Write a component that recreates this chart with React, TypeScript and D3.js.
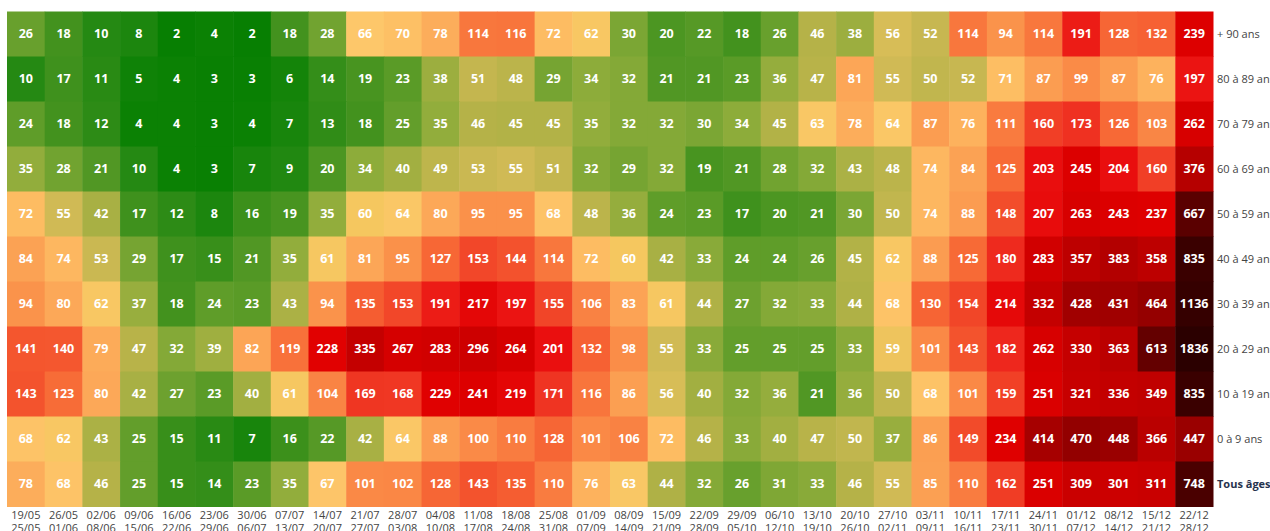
import React from "react";
import * as d3 from "d3";

// week labels (start / end)
const weekStart = ["19/05","26/05","02/06","09/06","16/06","23/06","30/06","07/07","14/07","21/07","28/07","04/08","11/08","18/08","25/08","01/09","08/09","15/09","22/09","29/09","06/10","13/10","20/10","27/10","03/11","10/11","17/11","24/11","01/12","08/12","15/12","22/12"];
const weekEnd = ["25/05","01/06","08/06","15/06","22/06","29/06","06/07","13/07","20/07","27/07","03/08","10/08","17/08","24/08","31/08","07/09","14/09","21/09","28/09","05/10","12/10","19/10","26/10","02/11","09/11","16/11","23/11","30/11","07/12","14/12","21/12","28/12"];

const ageLabels = ["+ 90 ans","80 à 89 ans","70 à 79 ans","60 à 69 ans","50 à 59 ans","40 à 49 ans","30 à 39 ans","20 à 29 ans","10 à 19 ans","0 à 9 ans","Tous âges"];

const age90 = [26,18,10,8,2,4,2,18,28,66,70,78,114,116,72,62,30,20,22,18,26,46,38,56,52,114,94,114,191,128,132,239];
const age80 = [10,17,11,5,4,3,3,6,14,19,23,38,51,48,29,34,32,21,21,23,36,47,81,55,50,52,71,87,99,87,76,197];
const age70 = [24,18,12,4,4,3,4,7,13,18,25,35,46,45,45,35,32,32,30,34,45,63,78,64,87,76,111,160,173,126,103,262];
const age60 = [35,28,21,10,4,3,7,9,20,34,40,49,53,55,51,32,29,32,19,21,28,32,43,48,74,84,125,203,245,204,160,376];
const age50 = [72,55,42,17,12,8,16,19,35,60,64,80,95,95,68,48,36,24,23,17,20,21,30,50,74,88,148,207,263,243,237,667];
const age40 = [84,74,53,29,17,15,21,35,61,81,95,127,153,144,114,72,60,42,33,24,24,26,45,62,88,125,180,283,357,383,358,835];
const age30 = [94,80,62,37,18,24,23,43,94,135,153,191,217,197,155,106,83,61,44,27,32,33,44,68,130,154,214,332,428,431,464,1136];
const age20 = [141,140,79,47,32,39,82,119,228,335,267,283,296,264,201,132,98,55,33,25,25,25,33,59,101,143,182,262,330,363,613,1836];
const age10 = [143,123,80,42,27,23,40,61,104,169,168,229,241,219,171,116,86,56,40,32,36,21,36,50,68,101,159,251,321,336,349,835];
const age0 = [68,62,43,25,15,11,7,16,22,42,64,88,100,110,128,101,106,72,46,33,40,47,50,37,86,149,234,414,470,448,366,447];
const allAges = [78,68,46,25,15,14,23,35,67,101,102,128,143,135,110,76,63,44,32,26,31,33,46,55,85,110,162,251,309,301,311,748];

const series = [age90, age80, age70, age60, age50, age40, age30, age20, age10, age0, allAges];

const W = 1270;
const H = 531;
const left = 7;
const right = 1213;
const top = 11.5;
const bottom = 506.5;

const color = d3
  .scaleLinear<string>()
  .domain([0, 4, 10, 18, 26, 35, 46, 55, 60, 66, 72, 80, 95, 110, 125, 150, 180, 200, 230, 300, 350, 430, 613, 835, 1900])
  .range([
    "#027c00", "#0b8104", "#258913", "#43921e", "#68a02d", "#92ad3c", "#b5b248", "#d0ba55",
    "#f5c75f", "#fdc76a", "#fdbc62", "#fca858", "#fa914a", "#f97c40", "#f76a36", "#f24a2a",
    "#ee2a1e", "#ea1010", "#e00000", "#cc0000", "#c00000", "#a00000", "#640000", "#3a0000", "#2a0000",
  ])
  .clamp(true);

export default function App() {
  const x = d3.scaleBand<number>().domain(d3.range(weekStart.length)).range([left, right]);
  const y = d3.scaleBand<number>().domain(d3.range(ageLabels.length)).range([top, bottom]);

  const cells = series.flatMap((row, r) => row.map((v, c) => ({ r, c, v })));

  return (
    <svg
      width={W}
      height={H}
      style={{ position: "absolute", left: 0, top: 0, fontFamily: "'Open Sans', sans-serif" }}
    >
      <rect width={W} height={H} fill="#fff" />
      <g>
        {cells.map((d) => (
          <rect
            key={`${d.r}-${d.c}`}
            x={x(d.c)}
            y={y(d.r)}
            width={x.bandwidth() + 0.5}
            height={y.bandwidth() + 0.5}
            fill={color(d.v)}
          />
        ))}
      </g>
      <g>
        {cells.map((d) => (
          <text
            key={`t${d.r}-${d.c}`}
            x={(x(d.c) ?? 0) + x.bandwidth() / 2}
            y={(y(d.r) ?? 0) + y.bandwidth() / 2}
            dy="0.35em"
            textAnchor="middle"
            fontSize={12.5}
            fontWeight="bold"
            fill="#fff"
          >
            {d.v}
          </text>
        ))}
      </g>
      <g>
        {ageLabels.map((a, i) => (
          <text
            key={a}
            x={right + 4}
            y={(y(i) ?? 0) + y.bandwidth() / 2}
            dy="0.35em"
            fontSize={11}
            fontWeight={i === ageLabels.length - 1 ? "bold" : "normal"}
            fill={i === ageLabels.length - 1 ? "#26324d" : "#444"}
          >
            {a}
          </text>
        ))}
      </g>
      <g>
        {weekStart.map((s, i) => (
          <text
            key={s}
            x={(x(i) ?? 0) + x.bandwidth() / 2}
            y={bottom + 12.5}
            textAnchor="middle"
            fontSize={11}
            fill="#444"
          >
            <tspan x={(x(i) ?? 0) + x.bandwidth() / 2}>{s}</tspan>
            <tspan x={(x(i) ?? 0) + x.bandwidth() / 2} dy={13}>{weekEnd[i]}</tspan>
          </text>
        ))}
      </g>
    </svg>
  );
}
